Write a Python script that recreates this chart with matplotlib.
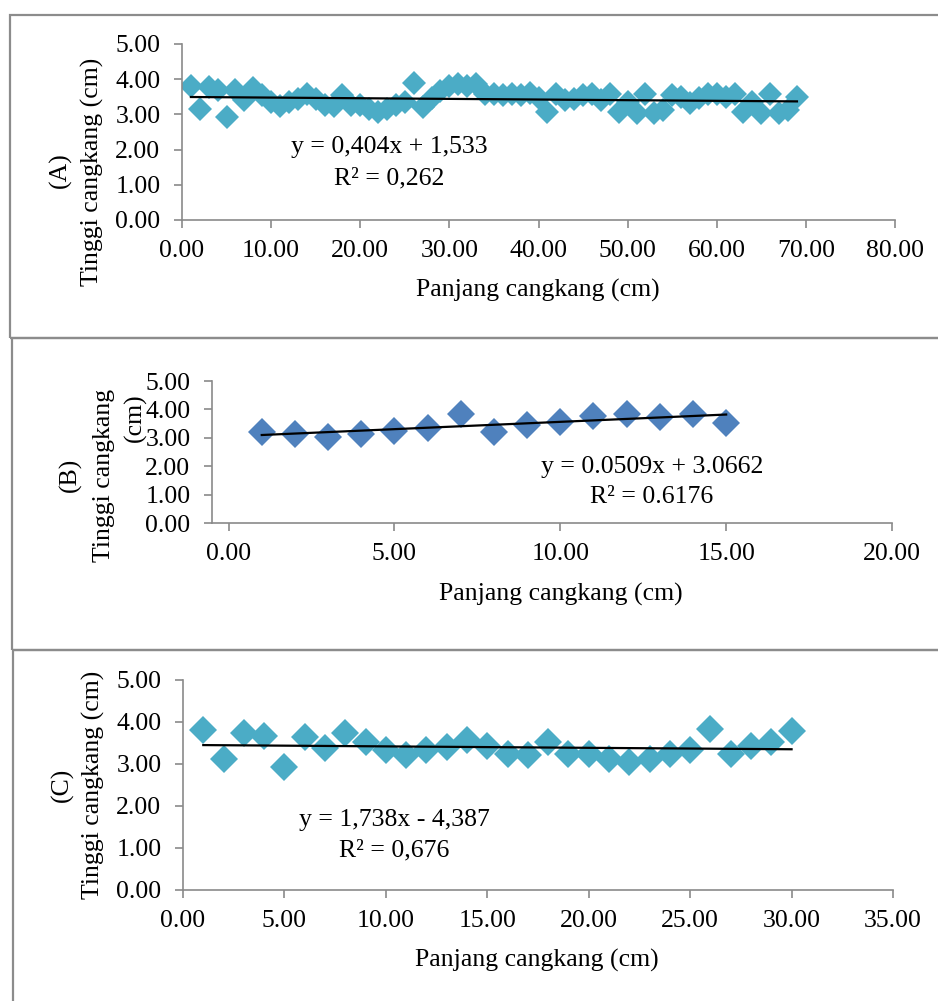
import numpy as np
import matplotlib
matplotlib.use("Agg")
import matplotlib.pyplot as plt
from matplotlib.patches import Rectangle

plt.rcParams['font.family'] = ['Liberation Serif', 'DejaVu Serif']

# Panel (A): shell length vs shell height, 69 samples
a_x = list(range(1, 70))
a_y = [3.82, 3.14, 3.78, 3.68, 2.94, 3.68, 3.41, 3.76, 3.56, 3.36,
       3.24, 3.36, 3.44, 3.58, 3.44, 3.26, 3.24, 3.54, 3.26, 3.26,
       3.14, 3.06, 3.14, 3.26, 3.36, 3.88, 3.22, 3.48, 3.66, 3.82,
       3.86, 3.82, 3.86, 3.58, 3.58, 3.56, 3.58, 3.54, 3.62, 3.48,
       3.06, 3.58, 3.40, 3.44, 3.54, 3.58, 3.40, 3.58, 3.06, 3.36,
       3.04, 3.58, 3.04, 3.12, 3.54, 3.50, 3.32, 3.46, 3.58, 3.58,
       3.50, 3.58, 3.06, 3.36, 3.04, 3.58, 3.04, 3.12, 3.50]

# Panel (B): 15 samples
b_x = list(range(1, 16))
b_y = [3.22, 3.13, 3.03, 3.13, 3.24, 3.36, 3.84, 3.21, 3.44, 3.55,
       3.78, 3.84, 3.74, 3.84, 3.53]

# Panel (C): 30 samples
c_x = list(range(1, 31))
c_y = [3.81, 3.13, 3.75, 3.67, 2.92, 3.65, 3.39, 3.73, 3.52, 3.33,
       3.21, 3.33, 3.41, 3.57, 3.43, 3.25, 3.21, 3.53, 3.24, 3.24,
       3.13, 3.04, 3.13, 3.24, 3.33, 3.83, 3.24, 3.44, 3.53, 3.79]

a_eq = ["y = 0,404x + 1,533", "R² = 0,262"]
b_eq = ["y = 0.0509x + 3.0662", "R² = 0.6176"]
c_eq = ["y = 1,738x - 4,387", "R² = 0,676"]

W, H = 938, 1001
FS = 18.5
AXIS_GRAY = '#8a8a8a'
BOX_GRAY = '#8c8c8c'


def fx(px):
    return px / W


def fy(py):
    return 1 - py / H


def make_axes(fig, left, right, top, bottom):
    return fig.add_axes([fx(left), fy(bottom), (right - left) / W, (bottom - top) / H])


def style_axes(ax, xlim, xticks):
    ax.set_xlim(*xlim)
    ax.set_ylim(0, 5)
    ax.set_xticks(xticks)
    ax.set_yticks(np.arange(0, 6, 1))
    ax.xaxis.set_major_formatter(matplotlib.ticker.FormatStrFormatter('%.2f'))
    ax.yaxis.set_major_formatter(matplotlib.ticker.FormatStrFormatter('%.2f'))
    for side in ['top', 'right']:
        ax.spines[side].set_visible(False)
    for side in ['left', 'bottom']:
        ax.spines[side].set_color(AXIS_GRAY)
        ax.spines[side].set_linewidth(1.2)
    ax.tick_params(axis='both', direction='out', length=5.5, width=1.2,
                   color=AXIS_GRAY, labelsize=FS, labelcolor='black')
    ax.tick_params(axis='y', pad=10)
    ax.tick_params(axis='x', pad=9)
    ax.patch.set_alpha(0)


def scatter_with_trend(ax, xs, ys, color, msize):
    ax.plot(xs, ys, linestyle='none', marker='D', markersize=msize,
            color=color, markeredgewidth=0, zorder=2)
    slope, intercept = np.polyfit(xs, ys, 1)
    x0, x1 = min(xs), max(xs)
    ax.plot([x0, x1], [slope * x0 + intercept, slope * x1 + intercept],
            color='black', linewidth=1.6, zorder=3)


fig = plt.figure(figsize=(W / 100, H / 100), dpi=100)

# panel frames
for (l, t, b) in [(10, 15, 338), (12, 338, 650), (13, 650, 1010)]:
    fig.patches.append(Rectangle((fx(l), fy(b)), fx(W + 10) - fx(l), fy(t) - fy(b),
                                 transform=fig.transFigure, fill=False,
                                 edgecolor=BOX_GRAY, linewidth=1.6))

# (A)
ax_a = make_axes(fig, 182, 895, 44, 220)
style_axes(ax_a, (0, 80), np.arange(0, 81, 10))
scatter_with_trend(ax_a, a_x, a_y, '#4BACC6', 12.5)
fig.text(fx(538), fy(290), "Panjang cangkang (cm)", ha='center', va='center', fontsize=FS)
fig.text(fx(60), fy(170), "(A)", rotation=90, ha='center', va='center', fontsize=FS)
fig.text(fx(92), fy(172), "Tinggi cangkang (cm)", rotation=90, ha='center', va='center', fontsize=FS)
fig.text(fx(389), fy(147), a_eq[0], ha='center', va='center', fontsize=FS)
fig.text(fx(389), fy(178), a_eq[1], ha='center', va='center', fontsize=FS)

# (B)
ax_b = make_axes(fig, 212, 892, 381, 523)
style_axes(ax_b, (-0.5, 20), np.arange(0, 21, 5))
scatter_with_trend(ax_b, b_x, b_y, '#4F81BD', 14)
fig.text(fx(561), fy(594), "Panjang cangkang (cm)", ha='center', va='center', fontsize=FS)
fig.text(fx(70), fy(475), "(B)", rotation=90, ha='center', va='center', fontsize=FS)
fig.text(fx(104), fy(475), "Tinggi cangkang", rotation=90, ha='center', va='center', fontsize=FS)
fig.text(fx(135), fy(418), "(cm)", rotation=90, ha='center', va='center', fontsize=FS)
fig.text(fx(652), fy(467), b_eq[0], ha='center', va='center', fontsize=FS)
fig.text(fx(652), fy(497), b_eq[1], ha='center', va='center', fontsize=FS)

# (C)
ax_c = make_axes(fig, 183, 893, 680, 890)
style_axes(ax_c, (0, 35), np.arange(0, 36, 5))
scatter_with_trend(ax_c, c_x, c_y, '#4BACC6', 14)
fig.text(fx(537), fy(960), "Panjang cangkang (cm)", ha='center', va='center', fontsize=FS)
fig.text(fx(62), fy(785), "(C)", rotation=90, ha='center', va='center', fontsize=FS)
fig.text(fx(93), fy(785), "Tinggi cangkang (cm)", rotation=90, ha='center', va='center', fontsize=FS)
fig.text(fx(394), fy(820), c_eq[0], ha='center', va='center', fontsize=FS)
fig.text(fx(394), fy(850), c_eq[1], ha='center', va='center', fontsize=FS)

fig.savefig("out.png", dpi=100, facecolor='white')
